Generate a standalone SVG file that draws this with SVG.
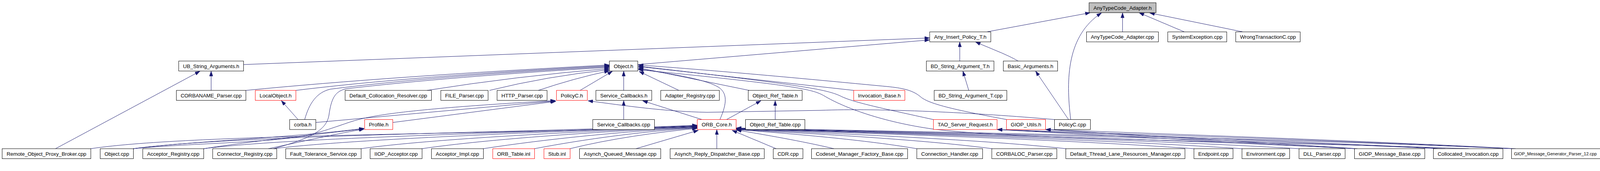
<svg xmlns="http://www.w3.org/2000/svg" width="4152" height="437" viewBox="0 0 4152 437" style="display:block;overflow:hidden">
<defs>
<marker id="arr" viewBox="0 0 13 9" refX="13" refY="4.5" markerWidth="13" markerHeight="9" markerUnits="userSpaceOnUse" orient="auto">
<path d="M0,0 L13,4.5 L0,9 z" fill="#191970" stroke="#191970" stroke-width="0.5"/>
</marker>
</defs>
<style>
.node rect{fill:#ffffff;stroke:#000000;stroke-width:1}
.node.red rect{stroke:#ff0000}
.node.root rect{fill:#bfbfbf}
.node text{font-family:"Liberation Sans",Arial,Helvetica,sans-serif;font-size:13.33px;fill:#000000;text-anchor:middle}
.node text.small{font-size:11px;text-anchor:start}
.edges path{fill:none;stroke:#191970;stroke-width:1;marker-end:url(#arr)}
</style>
<rect width="4152" height="437" fill="#ffffff"/>
<g class="edges" id="edges">
<path d="M2526,81.5 L2791,32.5"/>
<path d="M2873.7,81.5 L2873.7,32.5"/>
<path d="M3032,81.5 L2916,32.5"/>
<path d="M3182,81.5 L2943,33"/>
<path d="M2741,305.5 C2728,200 2732,90 2820,33"/>
<path d="M623.5,165 L2380,97"/>
<path d="M1632.7,165 L2380,102"/>
<path d="M2457,156 L2457,107"/>
<path d="M2606.5,156 C2575,138 2545,128 2497,107"/>
<path d="M540.5,231 L540.5,181.5"/>
<path d="M142,380 L512,182"/>
<path d="M2480,231 L2465,181.5"/>
<path d="M2735.5,305.5 L2651,181.5"/>
<path d="M629.5,231 Q1000,195 1560,166"/>
<path d="M757.5,231 Q1050,195 1560,168"/>
<path d="M780,305.5 C792,262 812,236 845,228 Q1100,195 1560,170"/>
<path d="M700,380 C790,355 835,335 842,295 C848,252 857,234 885,227 Q1150,196 1560,172"/>
<path d="M1093,231 Q1320,195 1560,175"/>
<path d="M1253,231 Q1400,195 1560,178"/>
<path d="M1378,231 Q1470,200 1560,181"/>
<path d="M1485,231 L1568,182"/>
<path d="M1596.7,231 L1596.7,181.5"/>
<path d="M1738,231 L1636,182.5"/>
<path d="M1843,305.5 C1856,275 1868,240 1838,222 C1800,200 1700,186 1634,176"/>
<path d="M1918,231 L1634,173"/>
<path d="M2185.5,231 L1634,170"/>
<path d="M2389,305.5 C2260,277 2190,263 2155,247 C2120,230 2080,220 1634,169"/>
<path d="M2577,305.5 C2440,280 2375,265 2355,246 C2335,230 2310,225 2270,221 C2150,210 1900,185 1634,166"/>
<path d="M3760,380 C3300,363 2600,357 2390,330 C2260,312 2160,275 2110,245 C2080,228 2040,218 1634,178"/>
<path d="M341,380 C500,365 700,365 790,345 C850,330 890,312 920,305 C980,290 1100,275 1422,257"/>
<path d="M808.5,313 L1422,258"/>
<path d="M1005.5,313 L1423,259"/>
<path d="M2699,305.5 C2500,288 2250,276 2100,282 L1810,287 C1700,285 1600,270 1505,257.5"/>
<path d="M1797,305.5 L1645,257.5"/>
<path d="M1860,305.5 L1948,257.5"/>
<path d="M1596.7,305.5 L1596.7,257"/>
<path d="M1984.5,305.5 L1984.5,257"/>
<path d="M763,305.5 L720,257"/>
<path d="M341,380 C500,360 750,352 932,328"/>
<path d="M521.5,380 C650,360 800,345 932,329"/>
<path d="M687,380 C780,360 870,340 932,330"/>
<path d="M232,380 C500,340 1300,345 1785,322"/>
<path d="M341,380 C600,345 1300,340 1785,320"/>
<path d="M521.5,380 C750,350 1400,338 1785,321"/>
<path d="M700,380 C900,355 1450,335 1785,323"/>
<path d="M924,380 C1100,355 1500,335 1785,324"/>
<path d="M1080,380 C1250,355 1550,335 1785,325"/>
<path d="M1237,380 C1400,355 1600,335 1785,326"/>
<path d="M1368,380 C1500,355 1650,335 1785,327"/>
<path d="M1459,380 C1560,355 1680,338 1785,328"/>
<path d="M1628,380 L1788,333"/>
<path d="M1835,380 L1835,331"/>
<path d="M1987,380 L1874,333"/>
<path d="M2135,380 C2050,360 1960,345 1885,332"/>
<path d="M2347,380 C2200,355 2000,340 1885,331"/>
<path d="M2540,380 C2350,355 2050,340 1885,331"/>
<path d="M2729,380 C2500,355 2100,340 1885,330"/>
<path d="M3057,380 C2700,355 2200,340 1885,330"/>
<path d="M3180,380 C2800,355 2200,338 1885,329"/>
<path d="M3326,380 C2900,355 2250,338 1885,329"/>
<path d="M3468,380 C3000,355 2300,338 1885,328"/>
<path d="M3680,380 C3100,352 2300,337 1885,328"/>
<path d="M3872,380 C3200,350 2300,336 1885,327"/>
<path d="M3470,380 C3100,360 2800,345 2553,331"/>
<path d="M3700,380 C3300,360 2850,345 2553,331"/>
<path d="M3875,380 C3400,358 2900,343 2553,331"/>
<path d="M3475,380 C3200,362 2900,345 2677,331"/>
<path d="M3880,380 C3500,360 3000,343 2677,331"/>
</g>
<g id="node-atca_h" class="node root"><rect x="2788" y="7" width="171.5" height="25.5"/><text x="2873.75" y="24.5" textLength="149" lengthAdjust="spacingAndGlyphs">AnyTypeCode_Adapter.h</text></g>
<g id="node-aipt_h" class="node"><rect x="2380" y="81.5" width="156.5" height="25.5"/><text x="2458.25" y="99" textLength="134" lengthAdjust="spacingAndGlyphs">Any_Insert_Policy_T.h</text></g>
<g id="node-atca_cpp" class="node"><rect x="2781.5" y="81.5" width="184" height="25.5"/><text x="2873.5" y="99" textLength="162" lengthAdjust="spacingAndGlyphs">AnyTypeCode_Adapter.cpp</text></g>
<g id="node-sysexc" class="node"><rect x="2989.5" y="81.5" width="151" height="25.5"/><text x="3065" y="99" textLength="129" lengthAdjust="spacingAndGlyphs">SystemException.cpp</text></g>
<g id="node-wrongtx" class="node"><rect x="3163.5" y="81.5" width="165" height="25.5"/><text x="3246" y="99" textLength="143" lengthAdjust="spacingAndGlyphs">WrongTransactionC.cpp</text></g>
<g id="node-ubsa" class="node"><rect x="457.5" y="156" width="166" height="25.5"/><text x="540.5" y="173.5" textLength="144" lengthAdjust="spacingAndGlyphs">UB_String_Arguments.h</text></g>
<g id="node-object_h" class="node"><rect x="1560" y="156" width="72.7" height="25.5"/><text x="1596.35" y="173.5" textLength="50" lengthAdjust="spacingAndGlyphs">Object.h</text></g>
<g id="node-bdsa_h" class="node"><rect x="2371.5" y="156" width="173" height="25.5"/><text x="2458" y="173.5" textLength="151" lengthAdjust="spacingAndGlyphs">BD_String_Argument_T.h</text></g>
<g id="node-basic_h" class="node"><rect x="2568.5" y="156" width="139" height="25.5"/><text x="2638" y="173.5" textLength="117" lengthAdjust="spacingAndGlyphs">Basic_Arguments.h</text></g>
<g id="node-corbaname" class="node"><rect x="451.5" y="231" width="178" height="25.5"/><text x="540.5" y="248.5" textLength="156" lengthAdjust="spacingAndGlyphs">CORBANAME_Parser.cpp</text></g>
<g id="node-localobj" class="node red"><rect x="653.5" y="231" width="104" height="25.5"/><text x="705.5" y="248.5" textLength="82" lengthAdjust="spacingAndGlyphs">LocalObject.h</text></g>
<g id="node-defcoll" class="node"><rect x="883.5" y="231" width="221" height="25.5"/><text x="994" y="248.5" textLength="199" lengthAdjust="spacingAndGlyphs">Default_Collocation_Resolver.cpp</text></g>
<g id="node-file" class="node"><rect x="1128.5" y="231" width="121" height="25.5"/><text x="1189" y="248.5" textLength="99" lengthAdjust="spacingAndGlyphs">FILE_Parser.cpp</text></g>
<g id="node-http" class="node"><rect x="1272.5" y="231" width="128" height="25.5"/><text x="1336.5" y="248.5" textLength="106" lengthAdjust="spacingAndGlyphs">HTTP_Parser.cpp</text></g>
<g id="node-policyc_h" class="node red"><rect x="1424.5" y="231" width="79" height="25.5"/><text x="1464" y="248.5" textLength="57" lengthAdjust="spacingAndGlyphs">PolicyC.h</text></g>
<g id="node-svccb_h" class="node"><rect x="1525.5" y="231" width="143" height="25.5"/><text x="1597" y="248.5" textLength="121" lengthAdjust="spacingAndGlyphs">Service_Callbacks.h</text></g>
<g id="node-adapreg" class="node"><rect x="1691.5" y="231" width="150" height="25.5"/><text x="1766.5" y="248.5" textLength="128" lengthAdjust="spacingAndGlyphs">Adapter_Registry.cpp</text></g>
<g id="node-ort_h" class="node"><rect x="1915.5" y="231" width="138" height="25.5"/><text x="1984.5" y="248.5" textLength="116" lengthAdjust="spacingAndGlyphs">Object_Ref_Table.h</text></g>
<g id="node-invbase" class="node red"><rect x="2185.5" y="231" width="131" height="25.5"/><text x="2251" y="248.5" textLength="109" lengthAdjust="spacingAndGlyphs">Invocation_Base.h</text></g>
<g id="node-bdsa_cpp" class="node"><rect x="2391.5" y="231" width="186" height="25.5"/><text x="2484.5" y="248.5" textLength="164" lengthAdjust="spacingAndGlyphs">BD_String_Argument_T.cpp</text></g>
<g id="node-corba" class="node"><rect x="741.5" y="305.5" width="67" height="25.5"/><text x="775" y="323" textLength="45" lengthAdjust="spacingAndGlyphs">corba.h</text></g>
<g id="node-profile" class="node red"><rect x="933.5" y="305.5" width="72" height="25.5"/><text x="969.5" y="323" textLength="50" lengthAdjust="spacingAndGlyphs">Profile.h</text></g>
<g id="node-svccb_cpp" class="node"><rect x="1517.5" y="305.5" width="158" height="25.5"/><text x="1596.5" y="323" textLength="136" lengthAdjust="spacingAndGlyphs">Service_Callbacks.cpp</text></g>
<g id="node-orbcore" class="node red"><rect x="1785" y="305.5" width="99.5" height="25.5"/><text x="1834.75" y="323" textLength="77" lengthAdjust="spacingAndGlyphs">ORB_Core.h</text></g>
<g id="node-ort_cpp" class="node"><rect x="1908.5" y="305.5" width="152" height="25.5"/><text x="1984.5" y="323" textLength="130" lengthAdjust="spacingAndGlyphs">Object_Ref_Table.cpp</text></g>
<g id="node-tsr" class="node red"><rect x="2389.5" y="305.5" width="163" height="25.5"/><text x="2471" y="323" textLength="141" lengthAdjust="spacingAndGlyphs">TAO_Server_Request.h</text></g>
<g id="node-giopu" class="node red"><rect x="2576.5" y="305.5" width="100" height="25.5"/><text x="2626.5" y="323" textLength="78" lengthAdjust="spacingAndGlyphs">GIOP_Utils.h</text></g>
<g id="node-policyc_cpp" class="node"><rect x="2699.5" y="305.5" width="92" height="25.5"/><text x="2745.5" y="323" textLength="70" lengthAdjust="spacingAndGlyphs">PolicyC.cpp</text></g>
<g id="node-ropb" class="node"><rect x="5.5" y="380" width="227" height="25.5"/><text x="119" y="397.5" textLength="204" lengthAdjust="spacingAndGlyphs">Remote_Object_Proxy_Broker.cpp</text></g>
<g id="node-objcpp" class="node"><rect x="256.5" y="380" width="85" height="25.5"/><text x="299" y="397.5" textLength="63" lengthAdjust="spacingAndGlyphs">Object.cpp</text></g>
<g id="node-accreg" class="node"><rect x="365.5" y="380" width="156" height="25.5"/><text x="443.5" y="397.5" textLength="134" lengthAdjust="spacingAndGlyphs">Acceptor_Registry.cpp</text></g>
<g id="node-conreg" class="node"><rect x="544.5" y="380" width="164" height="25.5"/><text x="626.5" y="397.5" textLength="142" lengthAdjust="spacingAndGlyphs">Connector_Registry.cpp</text></g>
<g id="node-fts" class="node"><rect x="731.5" y="380" width="193" height="25.5"/><text x="828" y="397.5" textLength="171" lengthAdjust="spacingAndGlyphs">Fault_Tolerance_Service.cpp</text></g>
<g id="node-iiopacc" class="node"><rect x="947.5" y="380" width="133" height="25.5"/><text x="1014" y="397.5" textLength="111" lengthAdjust="spacingAndGlyphs">IIOP_Acceptor.cpp</text></g>
<g id="node-accimpl" class="node"><rect x="1104.5" y="380" width="133" height="25.5"/><text x="1171" y="397.5" textLength="111" lengthAdjust="spacingAndGlyphs">Acceptor_Impl.cpp</text></g>
<g id="node-orbtable" class="node red"><rect x="1261.5" y="380" width="107" height="25.5"/><text x="1315" y="397.5" textLength="85" lengthAdjust="spacingAndGlyphs">ORB_Table.inl</text></g>
<g id="node-stub" class="node red"><rect x="1392.5" y="380" width="67" height="25.5"/><text x="1426" y="397.5" textLength="45" lengthAdjust="spacingAndGlyphs">Stub.inl</text></g>
<g id="node-aqm" class="node"><rect x="1483.5" y="380" width="208" height="25.5"/><text x="1587.5" y="397.5" textLength="186" lengthAdjust="spacingAndGlyphs">Asynch_Queued_Message.cpp</text></g>
<g id="node-ardb" class="node"><rect x="1715.5" y="380" width="241" height="25.5"/><text x="1836" y="397.5" textLength="219" lengthAdjust="spacingAndGlyphs">Asynch_Reply_Dispatcher_Base.cpp</text></g>
<g id="node-cdr" class="node"><rect x="1979.5" y="380" width="76" height="25.5"/><text x="2017.5" y="397.5" textLength="54" lengthAdjust="spacingAndGlyphs">CDR.cpp</text></g>
<g id="node-cmfb" class="node"><rect x="2077.5" y="380" width="246" height="25.5"/><text x="2200.5" y="397.5" textLength="224" lengthAdjust="spacingAndGlyphs">Codeset_Manager_Factory_Base.cpp</text></g>
<g id="node-connh" class="node"><rect x="2347" y="380" width="168.5" height="25.5"/><text x="2431.25" y="397.5" textLength="146" lengthAdjust="spacingAndGlyphs">Connection_Handler.cpp</text></g>
<g id="node-corbaloc" class="node"><rect x="2539" y="380" width="166.5" height="25.5"/><text x="2622.25" y="397.5" textLength="144" lengthAdjust="spacingAndGlyphs">CORBALOC_Parser.cpp</text></g>
<g id="node-dtlrm" class="node"><rect x="2728.5" y="380" width="305" height="25.5"/><text x="2881" y="397.5" textLength="283" lengthAdjust="spacingAndGlyphs">Default_Thread_Lane_Resources_Manager.cpp</text></g>
<g id="node-endpoint" class="node"><rect x="3056.5" y="380" width="100" height="25.5"/><text x="3106.5" y="397.5" textLength="78" lengthAdjust="spacingAndGlyphs">Endpoint.cpp</text></g>
<g id="node-environment" class="node"><rect x="3179.5" y="380" width="122" height="25.5"/><text x="3240.5" y="397.5" textLength="100" lengthAdjust="spacingAndGlyphs">Environment.cpp</text></g>
<g id="node-dll" class="node"><rect x="3325.5" y="380" width="118" height="25.5"/><text x="3384.5" y="397.5" textLength="96" lengthAdjust="spacingAndGlyphs">DLL_Parser.cpp</text></g>
<g id="node-gmb" class="node"><rect x="3467.5" y="380" width="180" height="25.5"/><text x="3557.5" y="397.5" textLength="158" lengthAdjust="spacingAndGlyphs">GIOP_Message_Base.cpp</text></g>
<g id="node-colinv" class="node"><rect x="3669.5" y="380" width="178" height="25.5"/><text x="3758.5" y="397.5" textLength="156" lengthAdjust="spacingAndGlyphs">Collocated_Invocation.cpp</text></g>
<g id="node-gmgp12" class="node"><rect x="3869.5" y="380" width="278" height="25.5"/><text class="small" x="3876" y="397">GIOP_Message_Generator_Parser_12.cpp</text></g>
</svg>
